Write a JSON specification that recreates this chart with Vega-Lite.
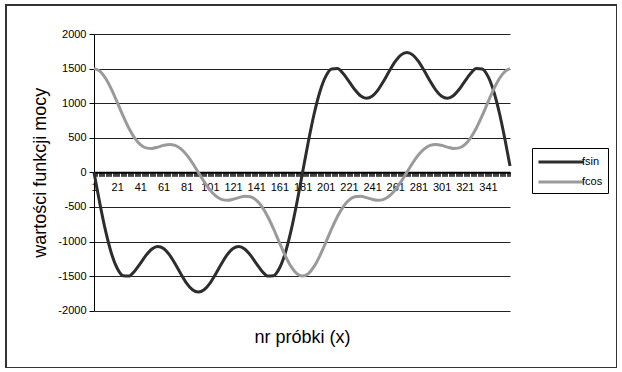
{
  "$schema": "https://vega.github.io/schema/vega-lite/v6.json",
  "width": 611,
  "height": 363,
  "padding": {"left": 6, "top": 5, "right": 0, "bottom": 0},
  "background": "white",
  "config": {
    "font": "Liberation Sans",
    "view": {"stroke": "#333333", "strokeWidth": 2}
  },
  "data": {
    "values": [
      {"x": 1, "fsin": 0, "fcos": 1500},
      {"x": 6, "fsin": -446, "fcos": 1464},
      {"x": 11, "fsin": -847, "fcos": 1360},
      {"x": 16, "fsin": -1169, "fcos": 1203},
      {"x": 21, "fsin": -1387, "fcos": 1015},
      {"x": 26, "fsin": -1494, "fcos": 819},
      {"x": 31, "fsin": -1500, "fcos": 641},
      {"x": 36, "fsin": -1429, "fcos": 498},
      {"x": 41, "fsin": -1316, "fcos": 402},
      {"x": 46, "fsin": -1197, "fcos": 354},
      {"x": 51, "fsin": -1108, "fcos": 346},
      {"x": 56, "fsin": -1072, "fcos": 365},
      {"x": 61, "fsin": -1100, "fcos": 390},
      {"x": 66, "fsin": -1189, "fcos": 404},
      {"x": 71, "fsin": -1321, "fcos": 390},
      {"x": 76, "fsin": -1469, "fcos": 340},
      {"x": 81, "fsin": -1604, "fcos": 253},
      {"x": 86, "fsin": -1698, "fcos": 135},
      {"x": 91, "fsin": -1731, "fcos": 0},
      {"x": 96, "fsin": -1698, "fcos": -135},
      {"x": 101, "fsin": -1604, "fcos": -253},
      {"x": 106, "fsin": -1469, "fcos": -340},
      {"x": 111, "fsin": -1321, "fcos": -390},
      {"x": 116, "fsin": -1189, "fcos": -404},
      {"x": 121, "fsin": -1100, "fcos": -390},
      {"x": 126, "fsin": -1072, "fcos": -365},
      {"x": 131, "fsin": -1108, "fcos": -346},
      {"x": 136, "fsin": -1197, "fcos": -354},
      {"x": 141, "fsin": -1316, "fcos": -402},
      {"x": 146, "fsin": -1429, "fcos": -498},
      {"x": 151, "fsin": -1500, "fcos": -641},
      {"x": 156, "fsin": -1494, "fcos": -819},
      {"x": 161, "fsin": -1387, "fcos": -1015},
      {"x": 166, "fsin": -1169, "fcos": -1203},
      {"x": 171, "fsin": -847, "fcos": -1360},
      {"x": 176, "fsin": -446, "fcos": -1464},
      {"x": 181, "fsin": 0, "fcos": -1500},
      {"x": 186, "fsin": 446, "fcos": -1464},
      {"x": 191, "fsin": 847, "fcos": -1360},
      {"x": 196, "fsin": 1169, "fcos": -1203},
      {"x": 201, "fsin": 1387, "fcos": -1015},
      {"x": 206, "fsin": 1494, "fcos": -819},
      {"x": 211, "fsin": 1500, "fcos": -641},
      {"x": 216, "fsin": 1429, "fcos": -498},
      {"x": 221, "fsin": 1316, "fcos": -402},
      {"x": 226, "fsin": 1197, "fcos": -354},
      {"x": 231, "fsin": 1108, "fcos": -346},
      {"x": 236, "fsin": 1072, "fcos": -365},
      {"x": 241, "fsin": 1100, "fcos": -390},
      {"x": 246, "fsin": 1189, "fcos": -404},
      {"x": 251, "fsin": 1321, "fcos": -390},
      {"x": 256, "fsin": 1469, "fcos": -340},
      {"x": 261, "fsin": 1604, "fcos": -253},
      {"x": 266, "fsin": 1698, "fcos": -135},
      {"x": 271, "fsin": 1731, "fcos": 0},
      {"x": 276, "fsin": 1698, "fcos": 135},
      {"x": 281, "fsin": 1604, "fcos": 253},
      {"x": 286, "fsin": 1469, "fcos": 340},
      {"x": 291, "fsin": 1321, "fcos": 390},
      {"x": 296, "fsin": 1189, "fcos": 404},
      {"x": 301, "fsin": 1100, "fcos": 390},
      {"x": 306, "fsin": 1072, "fcos": 365},
      {"x": 311, "fsin": 1108, "fcos": 346},
      {"x": 316, "fsin": 1197, "fcos": 354},
      {"x": 321, "fsin": 1316, "fcos": 402},
      {"x": 326, "fsin": 1429, "fcos": 498},
      {"x": 331, "fsin": 1500, "fcos": 641},
      {"x": 336, "fsin": 1494, "fcos": 819},
      {"x": 341, "fsin": 1387, "fcos": 1015},
      {"x": 346, "fsin": 1169, "fcos": 1203},
      {"x": 351, "fsin": 847, "fcos": 1360},
      {"x": 356, "fsin": 446, "fcos": 1464},
      {"x": 360, "fsin": 91, "fcos": 1499}
    ]
  },
  "transform": [{"fold": ["fsin", "fcos"], "as": ["series", "value"]}],
  "mark": {"type": "line", "interpolate": "monotone", "strokeWidth": 3},
  "encoding": {
    "x": {
      "field": "x",
      "type": "quantitative",
      "scale": {"domain": [1, 360], "range": [88, 504], "nice": false, "zero": false},
      "axis": {
        "orient": "bottom",
        "offset": -195.65,
        "tickCount": 360,
        "labelExpr": "(datum.value - 1) % 20 == 0 ? '' + datum.value : ''",
        "labelOverlap": false,
        "labelFlush": false,
        "labelBound": false,
        "grid": false,
        "domainColor": "black",
        "domainWidth": 2,
        "tickColor": "#444444",
        "tickSize": 4,
        "tickWidth": 1,
        "labelFontSize": 11,
        "labelPadding": 5,
        "labelColor": "black",
        "title": "nr próbki (x)",
        "titleFontSize": 18,
        "titleFontWeight": "normal",
        "titleColor": "black",
        "titleBaseline": "middle",
        "titleY": 165
      }
    },
    "y": {
      "field": "value",
      "type": "quantitative",
      "scale": {"domain": [-2000, 2000], "range": [305.7, 29], "nice": false},
      "axis": {
        "offset": -88,
        "values": [-2000, -1500, -1000, -500, 0, 500, 1000, 1500, 2000],
        "labelExpr": "'' + datum.value",
        "grid": true,
        "gridColor": "#222222",
        "gridWidth": 1,
        "domainColor": "black",
        "tickColor": "black",
        "tickSize": 5,
        "labelFontSize": 11,
        "labelPadding": 3,
        "labelColor": "black",
        "title": "wartości funkcji mocy",
        "titleFontSize": 18,
        "titleFontWeight": "normal",
        "titleColor": "black",
        "titlePadding": 8
      }
    },
    "color": {
      "field": "series",
      "type": "nominal",
      "scale": {"domain": ["fsin", "fcos"], "range": ["#2d2d2d", "#9a9a9a"]},
      "legend": {
        "orient": "none",
        "legendX": 526,
        "legendY": 143,
        "title": null,
        "strokeColor": "black",
        "fillColor": "white",
        "padding": 5,
        "symbolType": "M-3,0H3",
        "symbolSize": 225,
        "symbolOffset": 15,
        "symbolStrokeWidth": 3,
        "labelFontSize": 11,
        "labelColor": "black",
        "rowPadding": 5,
        "labelOffset": 12
      }
    }
  }
}
